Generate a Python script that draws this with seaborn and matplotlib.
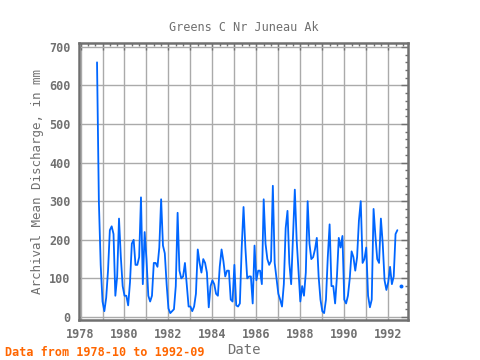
import numpy as np
import pandas as pd
import matplotlib
matplotlib.use('Agg')
import matplotlib.pyplot as plt
import seaborn as sns

# Monthly mean discharge (mm), 1978-10 .. 1992-09
discharge = [
    660, 300, 135, 40, 15, 50, 120, 225, 235, 215, 55, 105,      # 1978-10 .. 1979-09
    255, 155, 80, 55, 55, 30, 90, 190, 200, 135, 135, 155,       # 1979-10 .. 1980-09
    310, 85, 220, 150, 55, 40, 55, 140, 140, 130, 180, 305,      # 1980-10 .. 1981-09
    185, 165, 85, 22, 10, 15, 20, 80, 270, 120, 100, 105,        # 1981-10 .. 1982-09
    140, 85, 27, 27, 15, 27, 60, 175, 140, 115, 150, 140,        # 1982-10 .. 1983-09
    115, 25, 80, 95, 85, 60, 55, 130, 175, 145, 105, 120,        # 1983-10 .. 1984-09
    120, 45, 40, 135, 30, 27, 35, 180, 285, 180, 100, 105,       # 1984-10 .. 1985-09
    105, 35, 185, 95, 120, 120, 85, 305, 190, 150, 135, 145,     # 1985-10 .. 1986-09
    340, 140, 100, 60, 45, 27, 85, 230, 275, 140, 85, 210,       # 1986-10 .. 1987-09
    330, 200, 120, 40, 80, 55, 115, 300, 190, 150, 155, 175,     # 1987-10 .. 1988-09
    205, 105, 45, 15, 10, 45, 155, 240, 80, 80, 35, 105,         # 1988-10 .. 1989-09
    205, 180, 210, 45, 35, 55, 100, 170, 155, 120, 155, 250,     # 1989-10 .. 1990-09
    300, 140, 150, 180, 55, 25, 45, 280, 210, 150, 140, 255,     # 1990-10 .. 1991-09
    190, 95, 70, 90, 130, 85, 105, 215, 225, np.nan, 80, np.nan, # 1991-10 .. 1992-09
]
months = pd.date_range('1978-10-01', '1992-09-01', freq='MS')

df = pd.DataFrame({'Date': months.year + (months.month - 1) / 12.0,
                   'Discharge': discharge})
# the line breaks at the missing month, so draw the pieces separately
df['segment'] = df['Discharge'].isna().cumsum()
df = df.dropna()

grey = '#707070'
blue = '#0066ff'

sns.set_style('white')
plt.rcParams['font.family'] = ['DejaVu Sans Mono']
plt.rcParams['font.weight'] = 'bold'

fig = plt.figure(figsize=(4.8, 3.6), dpi=100)
ax = fig.add_axes([0.1646, 0.111, 0.6854, 0.7694])

for seg, part in df.groupby('segment'):
    if len(part) > 1:
        sns.lineplot(x='Date', y='Discharge', data=part, ax=ax, color=blue,
                     linewidth=1.3, estimator=None)
    else:
        sns.scatterplot(x='Date', y='Discharge', data=part, ax=ax, color=blue,
                        s=8, linewidth=0)

ax.set_xlim(1977.93, 1992.9)
ax.set_ylim(-8, 710)

years = list(range(1978, 1993))
ax.set_xticks(years)
ax.set_xticklabels([str(y) if y % 2 == 0 else '' for y in years])
ax.set_xticks(np.arange(1978, 1993, 1 / 3), minor=True)
ax.set_yticks(range(0, 701, 100))
ax.set_yticks(range(0, 701, 20), minor=True)

ax.grid(True, which='major', color='#aaaaaa', linewidth=1)
ax.set_axisbelow(True)
for side in ax.spines.values():
    side.set_color(grey)
    side.set_linewidth(1.8)

ax.tick_params(which='both', direction='in', top=True, right=True,
               colors=grey, labelsize=8.5, width=1)
ax.tick_params(which='major', length=5, pad=6)
ax.tick_params(which='minor', length=2.5)

ax.set_title('Greens C Nr Juneau Ak', color=grey, fontsize=8.5, pad=9)
ax.set_xlabel('Date', color=grey, fontsize=10, labelpad=1)
ax.set_ylabel('Archival Mean Discharge, in mm', color=grey, fontsize=9)
fig.text(0.01, 0.01, 'Data from 1978-10 to 1992-09', color='#ff6600',
         fontsize=8.5, fontweight='bold')

fig.savefig('out.png', dpi=100)
